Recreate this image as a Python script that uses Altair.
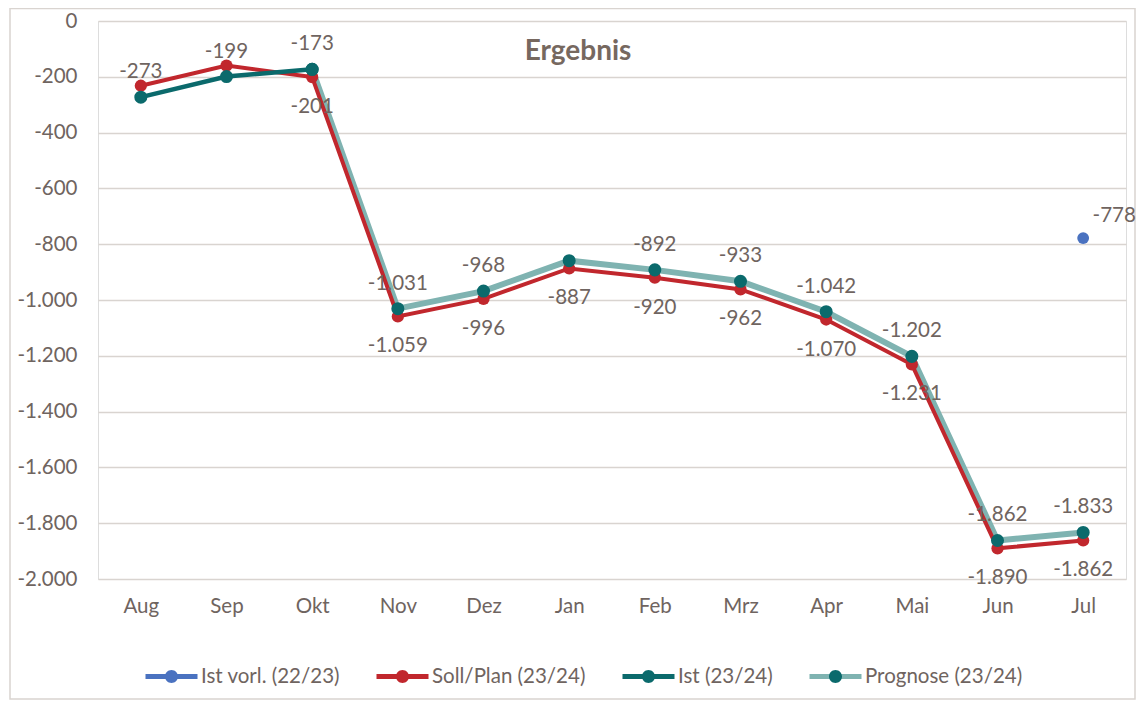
import altair as alt
import pandas as pd

months = ["Aug", "Sep", "Okt", "Nov", "Dez", "Jan", "Feb", "Mrz", "Apr", "Mai", "Jun", "Jul"]
series_names = ["Ist vorl. (22/23)", "Soll/Plan (23/24)", "Ist (23/24)", "Prognose (23/24)"]
series_keys = ["k1", "k2", "k3", "k4"]

ist_vorl = [None, None, None, None, None, None, None, None, None, None, None, -778]
soll_plan = [-232, -160, -201, -1059, -996, -887, -920, -962, -1070, -1231, -1890, -1862]
ist = [-273, -199, -173, None, None, None, None, None, None, None, None, None]
prognose = [None, None, -173, -1031, -968, -859, -892, -933, -1042, -1202, -1862, -1833]

# which points carry a data label
soll_label_months = ["Okt", "Nov", "Dez", "Jan", "Feb", "Mrz", "Apr", "Mai", "Jun", "Jul"]
ist_label_months = ["Aug", "Sep", "Okt"]
prog_label_months = ["Nov", "Dez", "Feb", "Mrz", "Apr", "Mai", "Jun", "Jul"]
vorl_label_months = ["Jul"]

FONT = "Lato"
TXT = "#6F6460"
GRID = "#D9D4D0"
FS = 20.5
stroke_colors = ["#4A72C0", "#C1272D", "#0B6A6C", "#7FB3B1"]
fill_colors = ["#4A72C0", "#C1272D", "#0B6A6C", "#0B6A6C"]


def de(v):
    s = f"{abs(int(v)):,}".replace(",", ".")
    return ("-" if v < 0 else "") + s


rows = []
for name, key, vals, lab in zip(series_names, series_keys,
                                [ist_vorl, soll_plan, ist, prognose],
                                [vorl_label_months, soll_label_months, ist_label_months, prog_label_months]):
    for m, v in zip(months, vals):
        if v is None:
            continue
        rows.append({"month": m, "series": name, "key": key, "value": v,
                     "label": de(v), "show": m in lab})
df = pd.DataFrame(rows)

x_enc = alt.X("month:N", sort=months, title=None,
              axis=alt.Axis(labelAngle=0, domain=False, ticks=False, grid=False,
                            labelPadding=17, labelFontSize=FS, labelFont=FONT, labelColor=TXT))
y_enc = alt.Y("value:Q", title=None,
              scale=alt.Scale(domain=[-2000, 0], nice=False),
              axis=alt.Axis(values=list(range(-2000, 1, 200)), domain=False, ticks=False,
                            labelPadding=21, labelFontSize=FS, labelFont=FONT, labelColor=TXT,
                            gridColor=GRID, gridWidth=1.3,
                            labelExpr="(datum.value < 0 ? '-' : '') + replace(format(abs(datum.value), ','), ',', '.')"))

LEG_X = 45
LEG_Y = 627
LEG_GAP = 26
LEG_OFF = 1

stroke_enc = alt.Stroke("series:N",
                        scale=alt.Scale(domain=series_names, range=stroke_colors),
                        legend=alt.Legend(orient="none", legendX=LEG_X, legendY=LEG_Y,
                                          direction="horizontal", title=None,
                                          symbolType="M-1,0H1", symbolSize=2704,
                                          symbolStrokeWidth=5, labelFontSize=FS, labelFont=FONT,
                                          labelColor=TXT, labelOffset=LEG_OFF, columnPadding=LEG_GAP,
                                          labelLimit=400, zindex=1))

label_map = " : ".join([f"datum.value == '{k}' ? '{n}'" for k, n in zip(series_keys, series_names)]) + " : ''"
fill_enc = alt.Fill("key:N",
                    scale=alt.Scale(domain=series_keys, range=fill_colors),
                    legend=alt.Legend(orient="none", legendX=LEG_X, legendY=LEG_Y,
                                      direction="horizontal", title=None,
                                      symbolType="M-1,0H1Z M0.25,0A0.25,0.25,0,1,1,-0.25,0A0.25,0.25,0,1,1,0.25,0Z",
                                      symbolSize=2704, symbolStrokeWidth=5,
                                      symbolStrokeColor="transparent", symbolOpacity=1,
                                      labelFontSize=FS, labelFont=FONT, labelOpacity=0,
                                      labelOffset=LEG_OFF, columnPadding=LEG_GAP, labelLimit=400,
                                      labelExpr=label_map, zindex=2))

base = alt.Chart(df).encode(x=x_enc, y=y_enc)


def sel(name):
    return alt.datum.series == name


prog_line = base.transform_filter(sel("Prognose (23/24)")).mark_line(strokeWidth=6).encode(stroke=stroke_enc)
soll_line = base.transform_filter(sel("Soll/Plan (23/24)")).mark_line(strokeWidth=4).encode(stroke=stroke_enc)
ist_line = base.transform_filter(sel("Ist (23/24)")).mark_line(strokeWidth=4.5).encode(stroke=stroke_enc)

soll_pts = base.transform_filter(sel("Soll/Plan (23/24)")).mark_circle(size=150, opacity=1).encode(fill=fill_enc)
ist_pts = base.transform_filter(sel("Ist (23/24)")).mark_circle(size=170, opacity=1).encode(fill=fill_enc)
prog_pts = base.transform_filter(sel("Prognose (23/24)")).mark_circle(size=170, opacity=1).encode(fill=fill_enc)
vorl_pts = base.transform_filter(sel("Ist vorl. (22/23)")).mark_circle(size=140, opacity=1).encode(fill=fill_enc)

lab_kw = dict(fontSize=FS, font=FONT, color=TXT)
soll_txt = base.transform_filter(sel("Soll/Plan (23/24)") & alt.datum.show).mark_text(dy=30, **lab_kw).encode(text="label:N")
ist_txt = base.transform_filter(sel("Ist (23/24)") & alt.datum.show).mark_text(dy=-25, **lab_kw).encode(text="label:N")
prog_txt = base.transform_filter(sel("Prognose (23/24)") & alt.datum.show).mark_text(dy=-25, **lab_kw).encode(text="label:N")
vorl_txt = base.transform_filter(sel("Ist vorl. (22/23)") & alt.datum.show).mark_text(dx=31, dy=-22, **lab_kw).encode(text="label:N")

frame = alt.Chart(pd.DataFrame({"f": [0]})).mark_rect(fillOpacity=0, stroke=GRID, strokeWidth=1.5).encode(
    x=alt.value(-88), x2=alt.value(1037), y=alt.value(-12.5), y2=alt.value(678))

chart = alt.layer(
    frame, prog_line, soll_line, ist_line, soll_pts, ist_pts, prog_pts, vorl_pts,
    soll_txt, ist_txt, prog_txt, vorl_txt
).resolve_scale(stroke="shared", fill="shared").properties(
    width=1028, height=558,
    autosize=alt.AutoSizeParams(type="none"),
    padding={"left": 90, "top": 13, "right": 10, "bottom": 121},
    title=alt.TitleParams("Ergebnis", fontSize=28, fontWeight="bold", color="#76685F", font=FONT,
                          anchor="middle", dx=-34, dy=58, offset=0),
).configure_view(strokeWidth=0).configure(background="white")

chart.save("out.html", embed_options={"renderer": "svg", "actions": False})
